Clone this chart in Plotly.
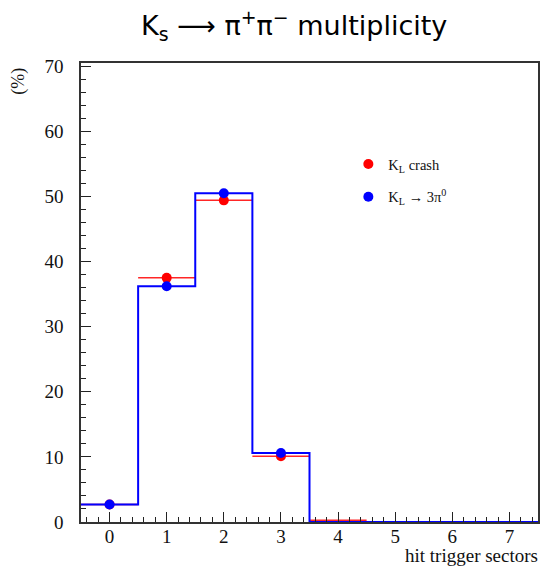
import plotly.graph_objects as go

bins = [0, 1, 2, 3, 4, 5, 6, 7]
edges = [-0.5, 0.5, 1.5, 2.5, 3.5, 4.5, 5.5, 6.5, 7.5]
red_vals = [2.7, 37.5, 49.4, 10.1, 0.25, 0.0, 0.0, 0.0]
blue_vals = [2.7, 36.2, 50.5, 10.6, 0.0, 0.0, 0.0, 0.0]
n_marked = 4  # bins that show a marker

serif = "Liberation Serif"
L, T, W, H = 81, 63, 459, 459

fig = go.Figure()

# red: horizontal bin-width bars (ROOT-style) + markers
fig.add_trace(go.Scatter(
    x=bins, y=red_vals, mode="markers",
    marker=dict(size=0.1, color="rgba(0,0,0,0)"),
    error_x=dict(type="constant", value=0.5, width=0, color="rgba(255,0,0,0.85)", thickness=1.5),
    showlegend=False, hoverinfo="skip"))
fig.add_trace(go.Scatter(
    x=bins[:n_marked], y=red_vals[:n_marked], mode="markers",
    marker=dict(size=10, color="red"),
    name="K<sub>L</sub> crash", legendgroup="a"))

# blue: step histogram + markers
fig.add_trace(go.Scatter(
    x=edges, y=blue_vals + [blue_vals[-1]], mode="lines",
    line=dict(shape="hv", color="blue", width=2),
    showlegend=False, hoverinfo="skip"))
fig.add_trace(go.Scatter(
    x=bins[:n_marked], y=blue_vals[:n_marked], mode="markers",
    marker=dict(size=10, color="blue"),
    name="K<sub>L</sub> → 3π<sup>0</sup>", legendgroup="b"))

axis_common = dict(
    showgrid=False, zeroline=False, ticks="inside", ticklen=10, tickwidth=1,
    tickcolor="#222", showline=True, linecolor="#333", linewidth=1.5, mirror=True,
    tickfont=dict(family=serif, size=19, color="#111"),
)

fig.update_xaxes(range=[-0.5, 7.5], tickmode="linear", tick0=0, dtick=1,
                 minor=dict(ticks="inside", ticklen=5, dtick=0.2, tick0=0, tickcolor="#222"),
                 ticklabelstandoff=-4,
                 **axis_common)
fig.update_yaxes(range=[0, 70.5], tickmode="linear", tick0=0, dtick=10,
                 minor=dict(ticks="inside", ticklen=5, dtick=2, tick0=0, tickcolor="#222"),
                 ticklabelstandoff=12,
                 **axis_common)


def px_x(p):
    return (p - L) / W


def px_y(p):
    return 1 - (p - T) / H


fig.update_layout(
    width=543, height=567,
    margin=dict(l=L, r=543 - L - W, t=T, b=567 - T - H),
    paper_bgcolor="white", plot_bgcolor="white",
    showlegend=True,
    legend=dict(x=0.585, y=px_y(148), xanchor="left", yanchor="top",
                bgcolor="rgba(0,0,0,0)", borderwidth=0,
                font=dict(family=serif, size=14.5, color="#111"),
                traceorder="grouped", tracegroupgap=11),
    annotations=[
        dict(text="K<sub>s</sub> ⟶ π<sup>+</sup>π<sup>−</sup> multiplicity",
             x=px_x(295), y=px_y(25), xref="paper", yref="paper",
             xanchor="center", yanchor="middle", showarrow=False,
             font=dict(family="DejaVu Sans", size=27, color="black")),
        dict(text="(%)", textangle=-90, x=px_x(18), y=px_y(66), xref="paper", yref="paper",
             xanchor="center", yanchor="top", showarrow=False,
             font=dict(family=serif, size=18, color="#111")),
        dict(text="hit trigger sectors", x=px_x(541), y=px_y(555), xref="paper", yref="paper",
             xanchor="right", yanchor="middle", showarrow=False, borderpad=0,
             font=dict(family=serif, size=19, color="#111")),
    ],
)

fig.write_html("out.html")
